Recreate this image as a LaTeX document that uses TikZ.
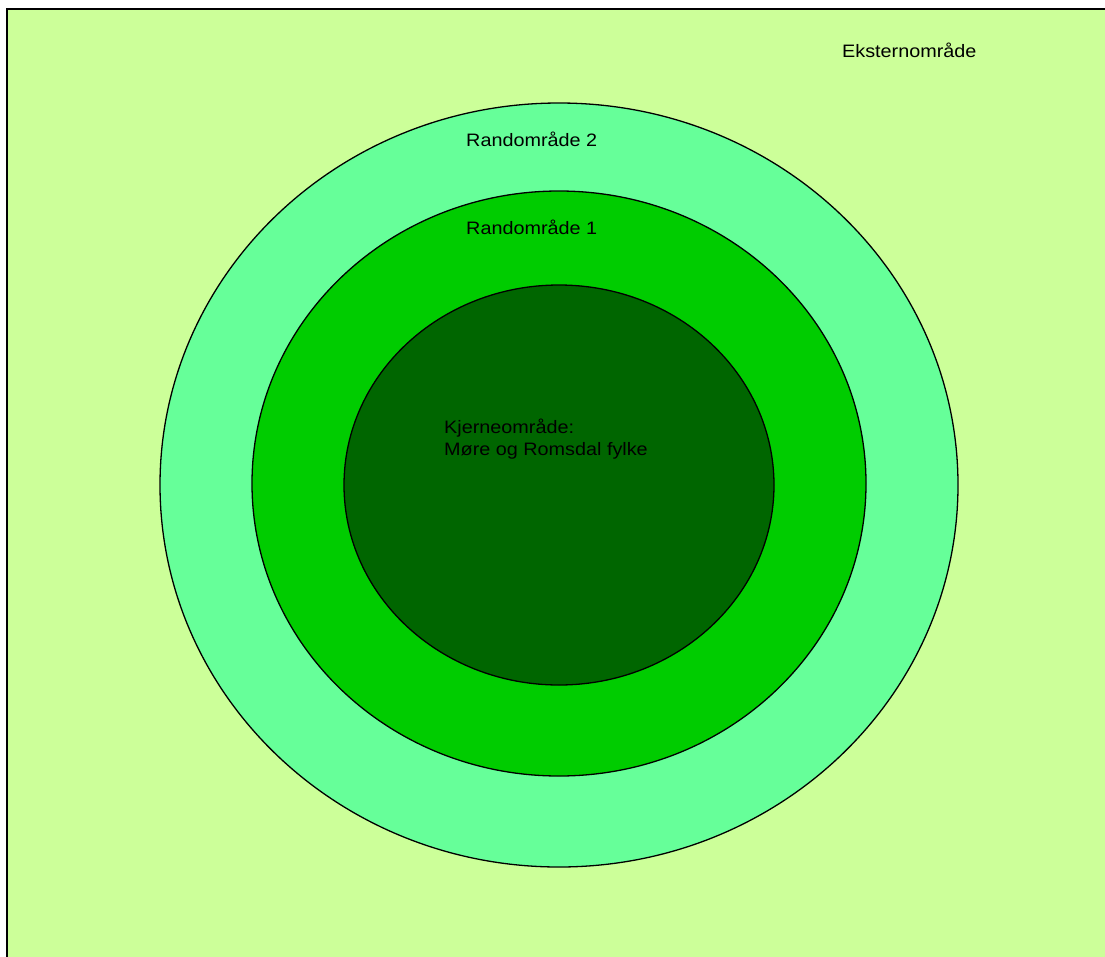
\documentclass[tikz,border=0pt]{standalone}
\usepackage{fontspec}
\setmainfont{Liberation Sans}[FakeStretch=1.1]
\definecolor{bgext}{HTML}{CCFF99}
\definecolor{rand2}{HTML}{66FF99}
\definecolor{rand1}{HTML}{00CC00}
\definecolor{kjerne}{HTML}{006600}
\begin{document}
\begin{tikzpicture}[x=1pt,y=-1pt,
  zone/.style={draw=black,line width=1.3pt},
  lbl/.style={anchor=base west,inner sep=0pt,font=\fontsize{18}{22.7}\selectfont,align=left}]
\useasboundingbox (0,0) rectangle (1105,956);
\begin{scope}
\clip (0,0) rectangle (1105,956);
\draw[fill=bgext,draw=black,line width=2pt] (7,9) rectangle (1120,970);
\end{scope}
\path[zone,fill=rand2] (559,485) ellipse [x radius=399, y radius=382];
\path[zone,fill=rand1] (559,483.5) ellipse [x radius=307, y radius=292.5];
\path[zone,fill=kjerne] (559,485) ellipse [x radius=215, y radius=200];
\node[lbl] (ext) at (842,57.5) {Eksternområde};
\node[lbl] (r2) at (466,146) {Randområde 2};
\node[lbl] (r1) at (466,234) {Randområde 1};
\node[lbl] (k1) at (444,433) {Kjerneområde:};
\node[lbl] (k2) at (444,455.7) {Møre og Romsdal fylke};
\end{tikzpicture}
\end{document}
